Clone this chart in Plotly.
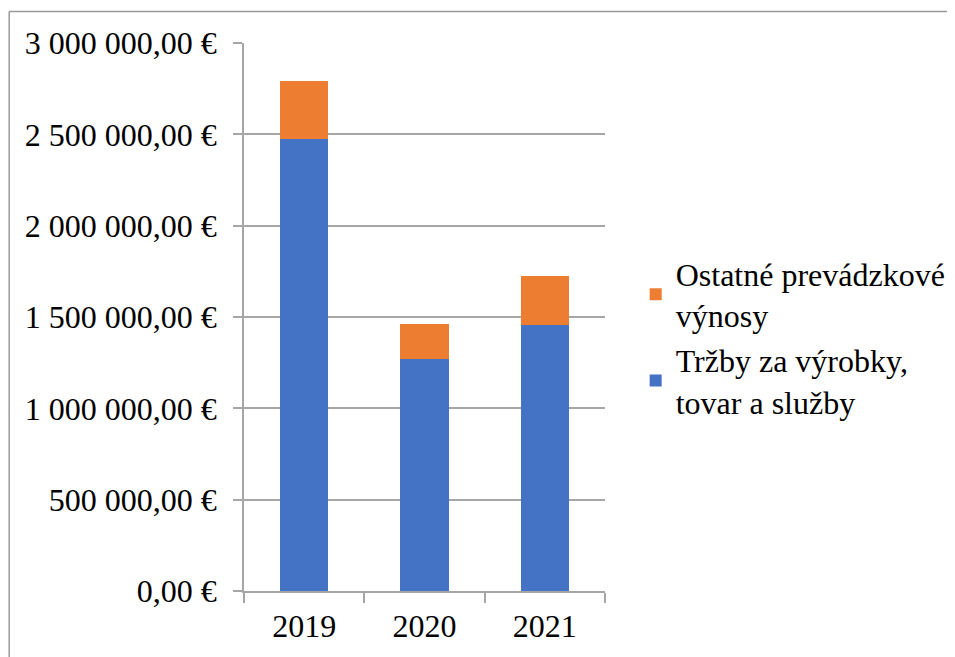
import plotly.graph_objects as go

years = ["2019", "2020", "2021"]
trzby = [2477000, 1271000, 1455000]
ostatne = [313000, 193000, 268000]
y_tick_vals = [0, 500000, 1000000, 1500000, 2000000, 2500000, 3000000]
y_tick_text = ["0,00 €", "500 000,00 €", "1 000 000,00 €", "1 500 000,00 €",
               "2 000 000,00 €", "2 500 000,00 €", "3 000 000,00 €"]
name_trzby = "Tržby za výrobky,<br>tovar a služby"
name_ostatne = "Ostatné prevádzkové<br>výnosy"

OFF = 8  # page body margin
W, H = 955, 657
L, R, T, B = 244 - OFF, 605.3 - OFF, 43.3 - OFF, 591.5 - OFF

def px_x(p):
    return (p - OFF - L) / (R - L)

def px_y(p):
    return (B - (p - OFF)) / (B - T)

font = dict(family="'Times New Roman', 'Liberation Serif', 'DejaVu Serif', serif", size=32, color="black")
grid = "#a6a6a6"

fig = go.Figure()
fig.add_trace(go.Bar(x=years, y=trzby, name=name_trzby, marker=dict(color="#4472C4", line=dict(width=0))))
fig.add_trace(go.Bar(x=years, y=ostatne, name=name_ostatne, marker=dict(color="#ED7D31", line=dict(width=0))))

fig.update_layout(
    width=W, height=H,
    margin=dict(l=L, r=W - R, t=T, b=H - B, pad=0),
    barmode="stack", bargap=0.6,
    paper_bgcolor="white", plot_bgcolor="white",
    font=font,
    showlegend=True,
    legend=dict(traceorder="reversed", x=px_x(636), y=px_y(338), xanchor="left", yanchor="middle",
                font=font, bgcolor="rgba(0,0,0,0)", itemclick=False),
    xaxis=dict(type="category", showgrid=False, showline=True, linecolor=grid, linewidth=1.5,
               ticks="outside", tickson="boundaries", ticklen=10, tickcolor=grid, tickwidth=1.5,
               tickfont=font, ticklabelstandoff=6),
    yaxis=dict(range=[0, 3000000], tickvals=y_tick_vals, ticktext=y_tick_text,
               showgrid=True, gridcolor=grid, gridwidth=1.5, zeroline=False,
               showline=True, linecolor=grid, linewidth=1.5,
               ticks="outside", ticklen=9, tickcolor=grid, tickwidth=1.5,
               tickfont=font, ticklabelstandoff=10),
    shapes=[
        dict(type="line", xref="paper", yref="paper", x0=px_x(9), x1=px_x(9), y0=px_y(11.7), y1=px_y(680),
             line=dict(color="#9a9a9a", width=1.5)),
        dict(type="line", xref="paper", yref="paper", x0=px_x(9), x1=px_x(980), y0=px_y(11.7), y1=px_y(11.7),
             line=dict(color="#9a9a9a", width=1.5)),
    ],
)

fig.write_html("out.html", config={"displayModeBar": False})
